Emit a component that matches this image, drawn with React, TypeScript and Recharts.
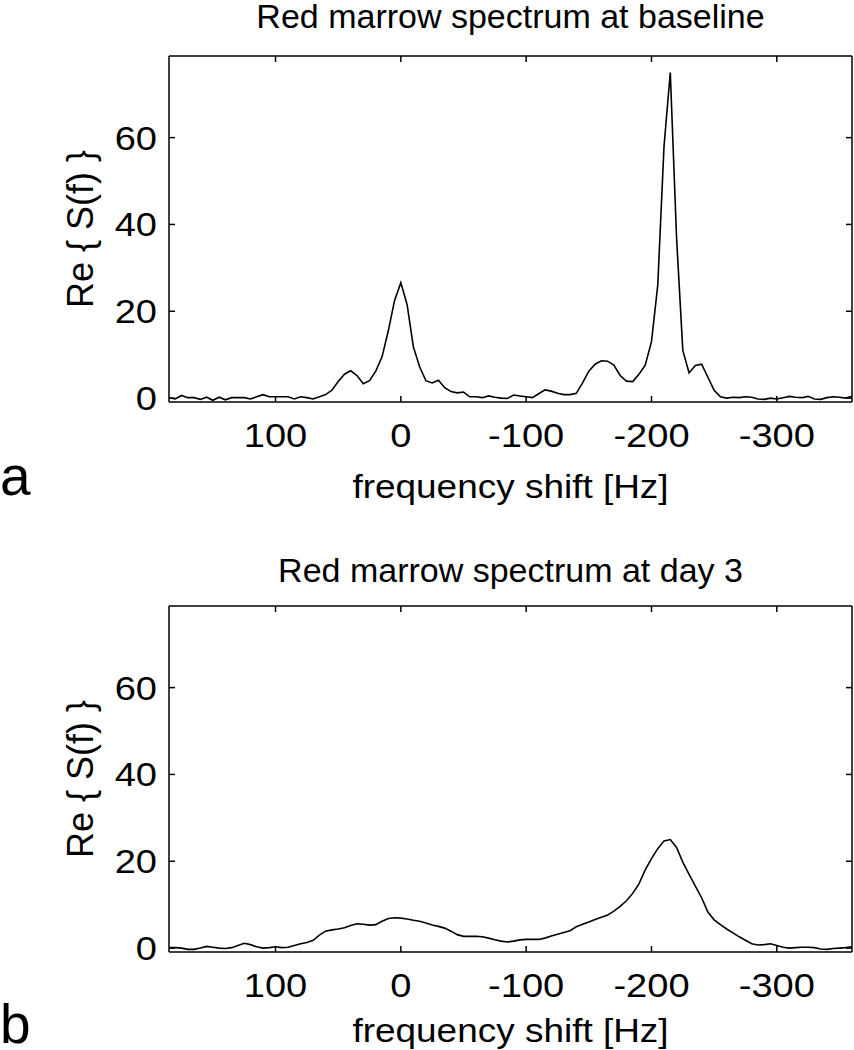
import { LineChart, Line, XAxis, YAxis } from 'recharts'

// frequency grid (Hz), plotted right-to-left like the original
const freqs = [
  185, 180, 175, 170, 165, 160, 155, 150, 145, 140,
  135, 130, 125, 120, 115, 110, 105, 100, 95, 90,
  85, 80, 75, 70, 65, 60, 55, 50, 45, 40,
  35, 30, 25, 20, 15, 10, 5, 0, -5, -10,
  -15, -20, -25, -30, -35, -40, -45, -50, -55, -60,
  -65, -70, -75, -80, -85, -90, -95, -100, -105, -110,
  -115, -120, -125, -130, -135, -140, -145, -150, -155, -160,
  -165, -170, -175, -180, -185, -190, -195, -200, -205, -210,
  -215, -220, -225, -230, -235, -240, -245, -250, -255, -260,
  -265, -270, -275, -280, -285, -290, -295, -300, -305, -310,
  -315, -320, -325, -330, -335, -340, -345, -350, -355, -360,
]

const baselineRe = [
  0.1, -0.2, 0.6, 0.1, 0.1, -0.3, 0.2, -0.5, 0.2, -0.4,
  0.1, 0.1, 0.1, -0.2, 0.3, 0.8, 0.3, 0.3, 0.3, 0.3,
  -0.2, 0.3, 0.1, -0.2, 0.3, 0.8, 1.8, 3.8, 5.5, 6.3,
  5.2, 3.3, 4.0, 6.2, 9.5, 15.5, 22.5, 26.6, 21.5, 11.8,
  7.2, 4.0, 3.5, 4.1, 2.4, 1.5, 1.2, 1.4, 0.3, 0.3,
  0.1, 0.5, 0.2, 0, -0.1, 0.7, 0.5, 0.3, 0.1, 1.0,
  1.9, 1.6, 1.1, 0.8, 0.8, 1.1, 3.5, 6.2, 7.8, 8.6,
  8.5, 7.6, 5.2, 3.9, 3.8, 5.5, 7.6, 13, 26, 58,
  75, 37, 11, 5.8, 7.5, 7.8, 4.8, 1.8, 0.3, 0,
  0.2, 0.1, 0.3, 0.2, -0.2, -0.3, 0, -0.2, 0.1, 0.4,
  0.2, 0.1, 0.4, -0.2, -0.3, 0.1, 0.3, 0.2, 0, 0.4,
]

const day3Re = [
  0.1, 0.1, 0, -0.3, -0.3, 0, 0.4, 0.2, 0, -0.1,
  0.1, 0.6, 1.1, 0.8, 0.3, 0, 0.1, 0.3, 0.1, 0.2,
  0.6, 1.0, 1.3, 1.8, 3.0, 3.9, 4.2, 4.4, 4.7, 5.2,
  5.6, 5.5, 5.3, 5.4, 6.2, 6.8, 7.0, 6.9, 6.7, 6.4,
  6.2, 5.8, 5.3, 5.0, 4.6, 3.9, 3.1, 2.7, 2.7, 2.7,
  2.6, 2.3, 1.9, 1.6, 1.4, 1.6, 1.9, 2.0, 2.0, 2.0,
  2.3, 2.8, 3.2, 3.6, 4.0, 4.9, 5.5, 6.0, 6.6, 7.1,
  7.6, 8.5, 9.6, 10.9, 12.6, 14.8, 18.0, 20.6, 22.9, 24.7,
  25.0, 23.2, 19.8, 17.0, 14.3, 11.6, 8.3, 6.5, 5.4, 4.4,
  3.5, 2.6, 1.8, 1.0, 0.7, 0.8, 1.0, 0.6, 0.2, 0,
  0.1, 0.2, 0.2, 0.1, -0.2, -0.3, -0.1, 0, 0.1, 0.3,
]

const xTicks = [100, 0, -100, -200, -300]
const yTicks = [0, 20, 40, 60]
const xDomain = [-360, 185]
const yDomain = [-0.9, 78.8]

const FONT = '"Liberation Sans", Arial, Helvetica, sans-serif'
const axisStyle = { stroke: '#000', strokeWidth: 1.5 }
const TICK_LEN = 6
const X_MARGIN = 10
const Y_MARGIN = 12

// matlab-style inward ticks, drawn together with the labels
function BottomTick({ x, y, payload }: any) {
  const axisY = y - X_MARGIN
  return (
    <g>
      <line x1={x} x2={x} y1={axisY} y2={axisY - TICK_LEN} stroke="#000" strokeWidth={1.5} />
      <text
        transform={`translate(${x},${axisY + 45}) scale(1.12,1)`}
        textAnchor="middle"
        fontSize={34}
        fontFamily={FONT}
        fill="#000"
      >
        {payload.value}
      </text>
    </g>
  )
}

function LeftTick({ x, y, payload }: any) {
  const axisX = x + Y_MARGIN
  return (
    <g>
      <line x1={axisX} x2={axisX + TICK_LEN} y1={y} y2={y} stroke="#000" strokeWidth={1.5} />
      <text
        transform={`translate(${axisX - 12},${y + 12}) scale(1.12,1)`}
        textAnchor="end"
        fontSize={34}
        fontFamily={FONT}
        fill="#000"
      >
        {payload.value}
      </text>
    </g>
  )
}

function TopTick({ x, y }: any) {
  return <line x1={x} x2={x} y1={y} y2={y + TICK_LEN} stroke="#000" strokeWidth={1.5} />
}

function RightTick({ x, y }: any) {
  return <line x1={x} x2={x - TICK_LEN} y1={y} y2={y} stroke="#000" strokeWidth={1.5} />
}

function XLabel({ viewBox, dy }: any) {
  const cx = viewBox.x + viewBox.width / 2
  return (
    <text
      transform={`translate(${cx},${viewBox.y + dy}) scale(1.12,1)`}
      textAnchor="middle"
      fontSize={33}
      fontFamily={FONT}
      fill="#000"
    >
      frequency shift [Hz]
    </text>
  )
}

function YLabel({ viewBox }: any) {
  const cy = viewBox.y + viewBox.height / 2
  return (
    <text
      transform={`translate(93,${cy}) rotate(-90)`}
      textAnchor="middle"
      fontSize={36}
      fontFamily={FONT}
      fill="#000"
    >
      {'Re { S(f) }'}
    </text>
  )
}

interface PanelProps {
  title: string
  letter: string
  values: number[]
  top: number
  titleY: number
  xLabelDy: number
  letterY: number
}

function SpectrumPanel({ title, letter, values, top, titleY, xLabelDy, letterY }: PanelProps) {
  const data = freqs.map((f, i) => ({ f, re: values[i] }))
  return (
    <div style={{ position: 'absolute', left: 0, top, width: 854, height: 512 }}>
      <LineChart width={854} height={512} data={data} margin={{ top: 55, right: 1, left: 0, bottom: 20 }}>
        <XAxis
          dataKey="f"
          type="number"
          domain={xDomain}
          allowDataOverflow
          reversed
          ticks={xTicks}
          height={90}
          tickSize={0}
          tickMargin={X_MARGIN}
          tickLine={false}
          tick={<BottomTick />}
          axisLine={axisStyle}
          label={<XLabel dy={xLabelDy} />}
        />
        <XAxis
          xAxisId="top"
          orientation="top"
          dataKey="f"
          type="number"
          domain={xDomain}
          allowDataOverflow
          reversed
          ticks={xTicks}
          height={1}
          tickSize={0}
          tickMargin={0}
          tickLine={false}
          tick={<TopTick />}
          axisLine={axisStyle}
        />
        <YAxis
          type="number"
          domain={yDomain}
          allowDataOverflow
          ticks={yTicks}
          width={169}
          tickSize={0}
          tickMargin={Y_MARGIN}
          tickLine={false}
          tick={<LeftTick />}
          axisLine={axisStyle}
          label={<YLabel />}
        />
        <YAxis
          yAxisId="right"
          orientation="right"
          type="number"
          domain={yDomain}
          allowDataOverflow
          ticks={yTicks}
          width={1}
          tickSize={0}
          tickMargin={0}
          tickLine={false}
          tick={<RightTick />}
          axisLine={axisStyle}
        />
        {/* invisible twin so the box axes (top / right) get drawn */}
        <Line
          xAxisId="top"
          yAxisId="right"
          type="linear"
          dataKey="re"
          stroke="none"
          dot={false}
          activeDot={false}
          isAnimationActive={false}
        />
        <Line
          type="linear"
          dataKey="re"
          stroke="#000"
          strokeWidth={1.6}
          dot={false}
          isAnimationActive={false}
        />
      </LineChart>
      <svg
        width={854}
        height={512}
        style={{ position: 'absolute', left: 0, top: 0, pointerEvents: 'none' }}
      >
        <text x={510.5} y={titleY} textAnchor="middle" fontSize={34} fontFamily={FONT} fill="#000">
          {title}
        </text>
        <text x={0} y={letterY} fontSize={55} fontFamily={FONT} fill="#000">
          {letter}
        </text>
      </svg>
    </div>
  )
}

export default function App() {
  return (
    <div style={{ position: 'absolute', left: 0, top: 0, width: 854, height: 1050, background: '#fff', overflow: 'hidden' }}>
      <SpectrumPanel
        title="Red marrow spectrum at baseline"
        letter="a"
        values={baselineRe}
        top={0}
        titleY={28}
        xLabelDy={96}
        letterY={495}
      />
      <SpectrumPanel
        title="Red marrow spectrum at day 3"
        letter="b"
        values={day3Re}
        top={550}
        titleY={32}
        xLabelDy={90}
        letterY={493}
      />
    </div>
  )
}
